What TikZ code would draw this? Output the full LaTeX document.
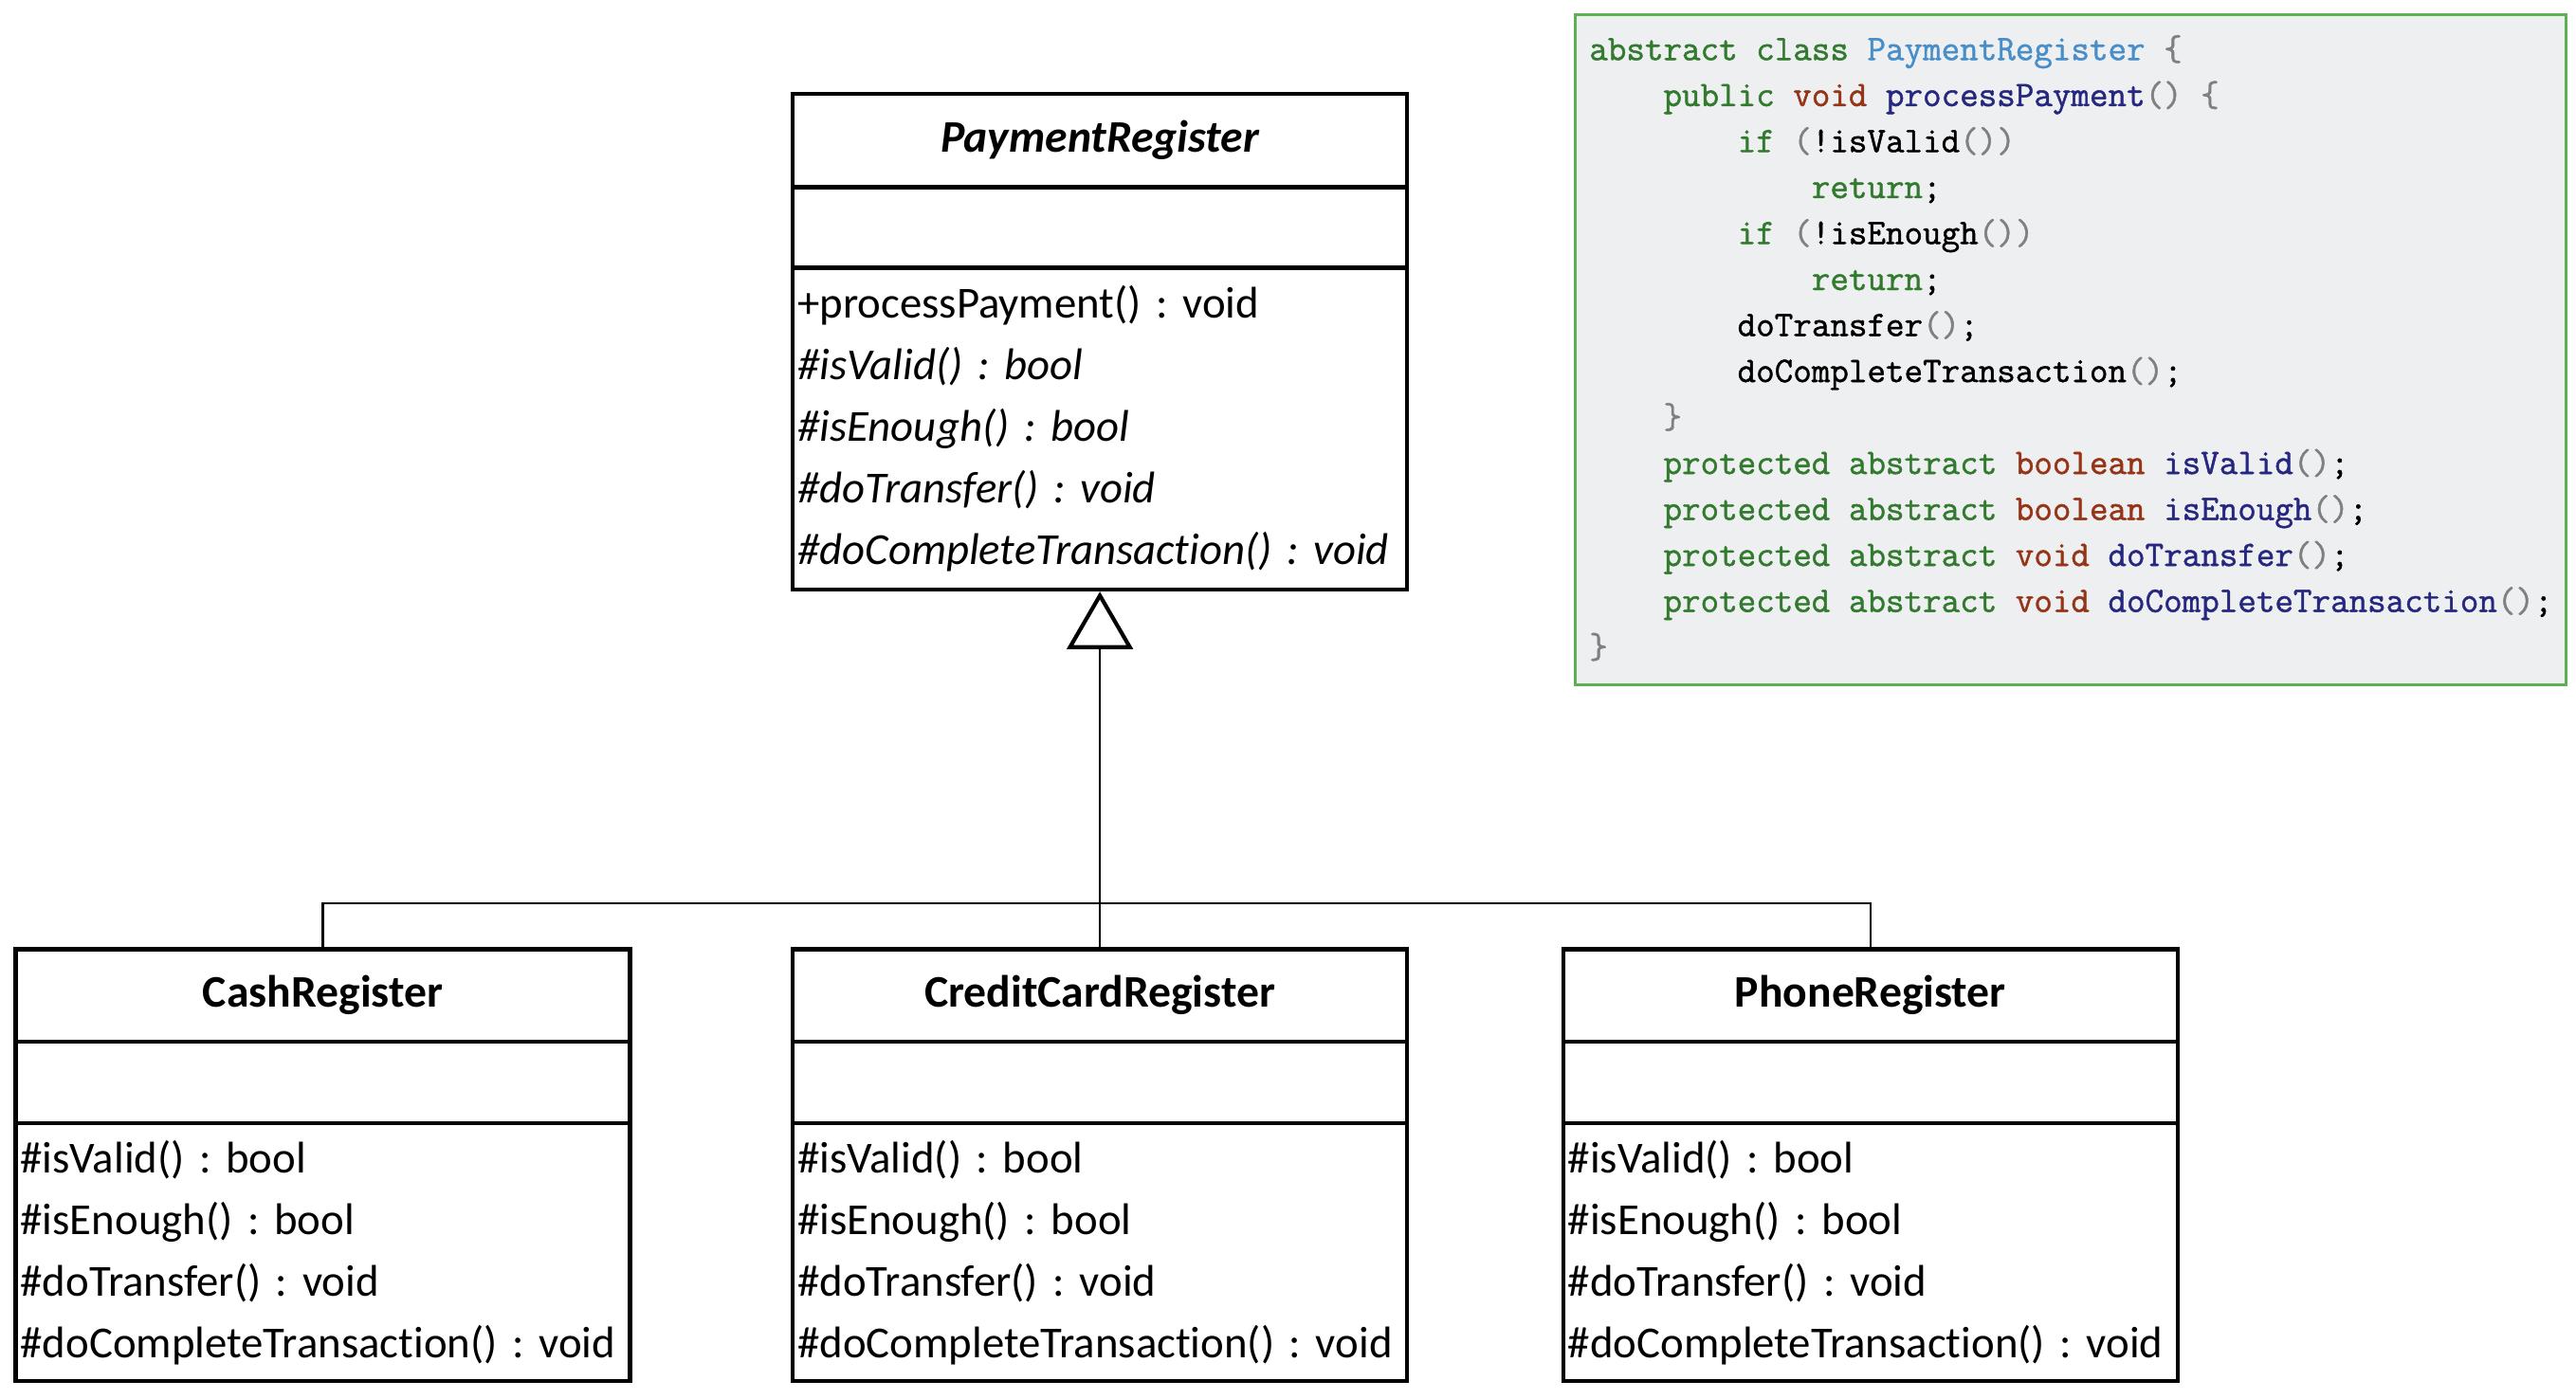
\documentclass[tikz,border=0pt]{standalone}
\usepackage{fontspec}
\setmainfont[Ligatures=NoCommon]{Carlito}
\newfontfamily\codefont[FakeBold=1.2]{Latin Modern Mono}
\usetikzlibrary{positioning}
\usetikzlibrary{arrows.meta}
\frenchspacing
\definecolor{kwgreen}{RGB}{50,122,46}
\definecolor{typebrown}{RGB}{150,52,24}
\definecolor{namenavy}{RGB}{38,40,128}
\definecolor{classblue}{RGB}{72,142,200}
\definecolor{punctgrey}{RGB}{128,128,128}
\definecolor{codebg}{RGB}{238,239,241}
\definecolor{codeframe}{RGB}{95,175,85}
\def\cw{374pt}
\newcommand\codekw[1]{\textcolor{kwgreen}{#1}}
\newcommand\codetype[1]{\textcolor{typebrown}{#1}}
\newcommand\codefn[1]{\textcolor{namenavy}{#1}}
\newcommand\codecls[1]{\textcolor{classblue}{#1}}
\newcommand\codepunct[1]{\textcolor{punctgrey}{#1}}
\newcommand\codeind{\hphantom{xxxx}}
\tikzset{
    border/.style = {
        draw, rectangle, minimum width=\cw, line width=2.4pt, outer sep=0pt, inner xsep=3pt, inner ysep=0pt
    },
    classtitle/.style = {
        border, minimum height=57pt, font=\fontsize{27.5}{30}\selectfont\bfseries
    },
    classattr/.style = {
        border, minimum height=49pt
    },
    classops/.style = {
        border, align=left, text width=\cw-6pt, font=\fontsize{27}{37.5}\selectfont
    },
    link/.style = {line width=1.3pt},
    codebox/.style = {
        draw=codeframe, fill=codebg, line width=1.6pt, minimum width=603pt, minimum height=408pt
    },
    codetext/.style = {
        inner sep=0pt, align=left, font=\codefont\fontsize{21.9}{28}\selectfont
    },
}

\begin{document}
\begin{tikzpicture}[x=1pt, y=-1pt]
        \useasboundingbox (0,0) rectangle (1568,851.8);

        % Abstract class
        \node[classtitle, font=\fontsize{27.5}{30}\selectfont\bfseries\itshape] (pay-title) at (669.5,85.5) {PaymentRegister};
        \node[classattr, below=0pt of pay-title] (pay-attr) {};
        \node[classops, minimum height=196pt, below=0pt of pay-attr] (pay-ops) {+processPayment() : void\\
            \textit{\#isValid() : bool}\\
            \textit{\#isEnough() : bool}\\
            \textit{\#doTransfer() : void}\\
            \textit{\#doCompleteTransaction() : void}};

        % Concrete classes
        \foreach \nm/\lbl/\xx in {cash/CashRegister/196.5, credit/CreditCardRegister/669.5, phone/PhoneRegister/1138.5}{
            \node[classtitle, minimum height=56pt] (\nm-title) at (\xx,606) {\lbl};
            \node[classattr, minimum height=50pt, below=0pt of \nm-title] (\nm-attr) {};
            \node[classops, minimum height=157pt, below=0pt of \nm-attr] (\nm-ops) {\#isValid() : bool\\
                \#isEnough() : bool\\
                \#doTransfer() : void\\
                \#doCompleteTransaction() : void};
        }

        % Draw connections
        \coordinate (bus) at (669.5,550);
        \draw[link] (cash-title.north) |- (bus) -| (phone-title.north);
        \draw[link, -{Triangle[open, width=40pt, length=35pt, line width=2.4pt]}] (credit-title.north) -- ([yshift=-1.2pt]pay-ops.south);

        % Code listing
        \node[codebox] (code-frame) at (1260.5,213) {};
        \node[codetext, anchor=north west] (code) at ([shift={(9,13)}]code-frame.north west) {%
            \codekw{abstract class} \codecls{PaymentRegister} \codepunct{\{}\\
            \codeind\codekw{public} \codetype{void} \codefn{processPayment}\codepunct{() \{}\\
            \codeind\codeind\codekw{if} \codepunct{(}!isValid\codepunct{())}\\
            \codeind\codeind\codeind\codekw{return};\\
            \codeind\codeind\codekw{if} \codepunct{(}!isEnough\codepunct{())}\\
            \codeind\codeind\codeind\codekw{return};\\
            \codeind\codeind doTransfer\codepunct{()};\\
            \codeind\codeind doCompleteTransaction\codepunct{()};\\
            \codeind\codepunct{\}}\\
            \codeind\codekw{protected abstract} \codetype{boolean} \codefn{isValid}\codepunct{()};\\
            \codeind\codekw{protected abstract} \codetype{boolean} \codefn{isEnough}\codepunct{()};\\
            \codeind\codekw{protected abstract} \codetype{void} \codefn{doTransfer}\codepunct{()};\\
            \codeind\codekw{protected abstract} \codetype{void} \codefn{doCompleteTransaction}\codepunct{()};\\
            \codepunct{\}}};
\end{tikzpicture}
\end{document}
